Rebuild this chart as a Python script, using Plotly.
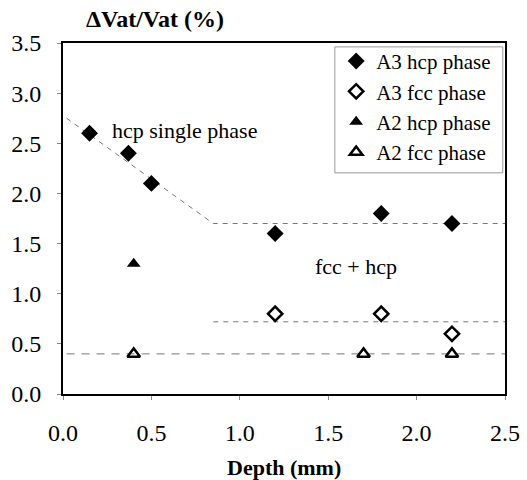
import plotly.graph_objects as go

# Data
a3_hcp_x = [0.15, 0.37, 0.5, 1.2, 1.8, 2.2]
a3_hcp_y = [2.6, 2.4, 2.1, 1.6, 1.8, 1.7]
a3_fcc_x = [1.2, 1.8, 2.2]
a3_fcc_y = [0.8, 0.8, 0.6]
a2_hcp_x = [0.4]
a2_hcp_y = [1.3]
a2_fcc_x = [0.4, 1.7, 2.2]
a2_fcc_y = [0.4, 0.4, 0.4]

# guide lines
hcp_line_x = [0.02, 0.85, 2.5]
hcp_line_y = [2.75, 1.7, 1.7]
fcc_line_x = [0.85, 2.5]
fcc_line_y = [0.72, 0.72]
a2_line_x = [0.02, 2.5]
a2_line_y = [0.4, 0.4]

x_ticks = [0.0, 0.5, 1.0, 1.5, 2.0, 2.5]
y_ticks = [0.0, 0.5, 1.0, 1.5, 2.0, 2.5, 3.0, 3.5]

FONT = "Times New Roman, Liberation Serif, serif"

fig = go.Figure()

for lx, ly, dsh in [(hcp_line_x, hcp_line_y, "5px,5px"),
                    (fcc_line_x, fcc_line_y, "5px,5px"),
                    (a2_line_x, a2_line_y, "8px,7px")]:
    fig.add_trace(go.Scatter(x=lx, y=ly, mode="lines", showlegend=False,
                             hoverinfo="skip",
                             line=dict(color="#777777", width=1, dash=dsh)))

fig.add_trace(go.Scatter(x=a3_hcp_x, y=a3_hcp_y, mode="markers", name="A3 hcp phase",
                         marker=dict(symbol="diamond", size=13, color="black")))
fig.add_trace(go.Scatter(x=a3_fcc_x, y=a3_fcc_y, mode="markers", name="A3 fcc phase",
                         marker=dict(symbol="diamond-open", size=11, color="black",
                                     line=dict(width=2.5, color="black"))))
fig.add_trace(go.Scatter(x=a2_hcp_x, y=a2_hcp_y, mode="markers", name="A2 hcp phase",
                         marker=dict(symbol="triangle-up", size=12, color="black")))
fig.add_trace(go.Scatter(x=a2_fcc_x, y=a2_fcc_y, mode="markers", name="A2 fcc phase",
                         marker=dict(symbol="triangle-up-open", size=11, color="black",
                                     line=dict(width=2.5, color="black"))))

fig.add_annotation(x=0.69, y=2.63, text="hcp single phase", showarrow=False,
                   font=dict(family=FONT, size=22, color="black"))
fig.add_annotation(x=1.66, y=1.27, text="fcc + hcp", showarrow=False,
                   font=dict(family=FONT, size=22, color="black"))
fig.add_annotation(xref="paper", yref="paper", x=0.208, y=1.025, xanchor="center",
                   yanchor="bottom", text="<b>ΔVat/Vat (%)</b>", showarrow=False,
                   font=dict(family=FONT, size=24, color="black"))
fig.add_annotation(xref="paper", yref="paper", x=0.5, y=-0.208, xanchor="center",
                   yanchor="middle", text="<b>Depth (mm)</b>", showarrow=False,
                   font=dict(family=FONT, size=22, color="black"))

# legend frame
fig.add_shape(type="rect", xref="paper", yref="paper", x0=0.615, x1=0.995,
              y0=0.630, y1=0.989, line=dict(color="#999999", width=1),
              fillcolor="rgba(0,0,0,0)", layer="above")

fig.update_layout(
    width=527, height=480,
    margin=dict(l=63, r=22, t=43, b=86),
    paper_bgcolor="white", plot_bgcolor="white",
    font=dict(family=FONT, color="black"),
    legend=dict(x=0.618, y=1.006, xanchor="left", yanchor="top",
                borderwidth=0, bgcolor="rgba(0,0,0,0)",
                font=dict(family=FONT, size=21, color="black"),
                itemwidth=30, tracegroupgap=0),
    xaxis=dict(range=[0, 2.5], tickvals=x_ticks, ticktext=[f"{v:.1f}" for v in x_ticks],
               showgrid=False, zeroline=False, showline=True, linecolor="black",
               linewidth=2, mirror=True, ticks="outside", ticklen=4, tickcolor="#888888",
               ticklabelstandoff=12, automargin=False,
               tickfont=dict(family=FONT, size=24, color="black")),
    yaxis=dict(range=[0, 3.5], tickvals=y_ticks, ticktext=[f"{v:.1f}" for v in y_ticks],
               showgrid=False, zeroline=False, showline=True, linecolor="black",
               linewidth=2, mirror=True, ticks="outside", ticklen=4, tickcolor="#888888",
               ticklabelstandoff=11, automargin=False,
               tickfont=dict(family=FONT, size=24, color="black")),
)

fig.write_html("out.html")
